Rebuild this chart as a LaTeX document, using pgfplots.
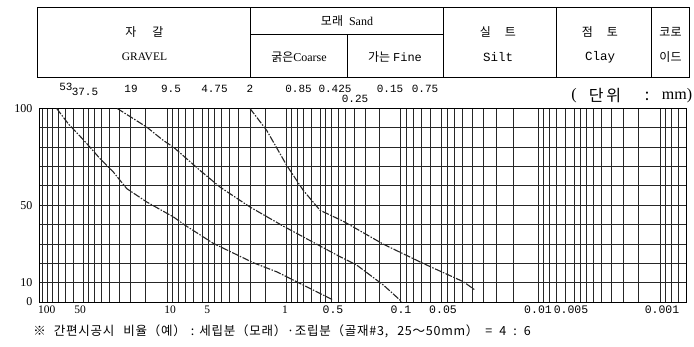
\documentclass[border=0pt]{standalone}
\usepackage{fontspec}
\setmainfont{Liberation Serif}
\newfontfamily\kr{Noto Sans CJK KR}
\newfontfamily\krwide[LetterSpace=6]{Noto Sans CJK KR}
\newfontfamily\mono{Liberation Mono}
\usepackage{pgfplots}
\pgfplotsset{compat=1.18}
\begin{document}
\begin{tikzpicture}
\useasboundingbox (0pt,0pt) rectangle (694pt,-346pt);
\begin{scope}[x=1pt,y=-1pt,line width=0.9pt]
% header table
\draw (37.7,7.3) rectangle (689.3,77.3);
\draw (250.7,7.3) -- (250.7,77.3);
\draw (443.3,7.3) -- (443.3,77.3);
\draw (556.7,7.3) -- (556.7,77.3);
\draw (651.7,7.3) -- (651.7,77.3);
\draw (250.7,34.3) -- (443.3,34.3);
\draw (347.3,34.3) -- (347.3,77.3);
\node[font=\kr\fontsize{12}{12}\selectfont] at (144.5,32) {자\hspace{16pt}갈};
\node[font=\fontsize{11.5}{12}\selectfont] at (144.5,57) {GRAVEL};
\node[font=\fontsize{12}{12}\selectfont] at (347,21) {{\kr 모래}\hspace{6pt}Sand};
\node[font=\fontsize{12}{12}\selectfont] at (299,57) {{\kr 굵은}Coarse};
\node[font=\fontsize{12}{12}\selectfont] at (395,57) {{\kr 가는} {\mono Fine}};
\node[font=\kr\fontsize{12}{12}\selectfont] at (498,32) {실\hspace{14pt}트};
\node[font=\mono\fontsize{12.5}{12}\selectfont] at (498,57) {Silt};
\node[font=\kr\fontsize{12}{12}\selectfont] at (600,32) {점\hspace{14pt}토};
\node[font=\mono\fontsize{12.5}{12}\selectfont] at (600,57) {Clay};
\node[font=\kr\fontsize{12}{12}\selectfont] at (670.5,32) {코로};
\node[font=\kr\fontsize{12}{12}\selectfont] at (670.5,57) {이드};
% sieve sizes row
\begin{scope}[every node/.style={font=\mono\fontsize{11}{11}\selectfont, inner sep=0pt}]
\node at (66,87) {53};
\node at (85,92) {37.5};
\node at (131,89) {19};
\node at (171,89) {9.5};
\node at (214.5,89) {4.75};
\node at (250,89) {2};
\node at (298.5,89) {0.85};
\node at (335,89) {0.425};
\node at (355,99) {0.25};
\node at (390,89) {0.15};
\node at (425,89) {0.75};
\end{scope}
\begin{scope}[every node/.style={inner sep=0pt}]
\node[font=\fontsize{16}{16}\selectfont] at (574,96) {(};
\node[font=\kr\fontsize{16}{16}\selectfont] at (605,96) {단\hspace{3pt}위};
\node[font=\kr\fontsize{16}{16}\selectfont] at (647,96) {:};
\node[font=\fontsize{16}{16}\selectfont] at (677,96) {mm)};
\end{scope}
% footnote
\node[font=\krwide\fontsize{12.5}{12.5}\selectfont, anchor=west, inner sep=0pt] at (33,331) {※\hspace{8pt}간편시공시\hspace{9pt}비율（예）\hspace{5pt}:\hspace{5pt}세립분（모래）·조립분（골재\#3,\hspace{9pt}25～50mm）\hspace{7pt}=\hspace{7pt}4\hspace{7pt}:\hspace{7pt}6};
\end{scope}
\begin{axis}[
  at={(39.5pt,-302pt)}, anchor=south west,
  scale only axis, width=646.5pt, height=193.5pt,
  xmin=39.5, xmax=686, ymin=0, ymax=100,
  axis line style={line width=1pt, black},
  xtick={42,47,52.5,58.6,65.6,73.6,83.1,88.6,94.7,101.7,109.7,119.3,130.9,145.9,167,
         172.4,178.5,185.4,193.4,202.8,208.3,214.4,221.3,229.2,238.6,250.2,265.0,286,
         291.2,297.0,303.7,311.3,320.3,325.5,331.4,338.0,345.6,354.6,365.7,379.9,400,
         406.3,413.4,421.4,430.6,441.5,447.9,454.9,462.9,472.2,483.1,496.5,513.7,538,
         543.6,549.8,556.9,565.1,574.7,580.3,586.5,593.6,601.8,611.5,623.3,638.5,660,665.6,671.8,678.9},
  xticklabels={},
  xmajorgrids, ymajorgrids,
  grid style={line width=0.9pt, black!85},
  major tick length=0pt,
  ytick={0,10,20,30,40,50,60,70,80,90,100},
  yticklabels={0,10,,,,50,,,,,100},
  yticklabel style={font=\fontsize{12}{12}\selectfont, anchor=east, inner sep=0pt, xshift=-7pt},
  xticklabel style={font=\fontsize{11.5}{11.5}\selectfont, anchor=north, inner sep=0pt, yshift=-4pt},
  extra x ticks={46.7,80,170,207.3,285,333,401,443,538,571,662},
  extra x tick labels={100,50,10,5,1,{\mono 0.5},{\mono 0.1},{\mono 0.05},{\mono 0.01},{\mono 0.005},{\mono 0.001}},
  extra x tick style={grid=none, major tick length=0pt},
  clip=false,
  curve/.style={black!85, line width=1.1pt, dash pattern=on 7pt off 1.5pt on 1.5pt off 1.5pt},
]
\addplot[curve] coordinates {(56.7,100) (68.3,92.1) (84,83.5) (100,74.1) (113.3,67.2) (126.7,58.6) (146.7,51.7) (173.3,44.0) (185,39.7) (213.3,30.3) (253.3,20.3) (276.7,15.6) (300,9.6) (333.3,1.0)};
\addplot[curve] coordinates {(117.3,100) (146.7,90.4) (163.3,83.5) (173.3,80.1) (200,68.0) (220,59.4) (250,49.1) (283.3,39.2) (340,23.4) (356.7,19.1) (383.3,8.8) (401.7,0.2)};
\addplot[curve] coordinates {(250,100) (266.7,88.7) (286.7,70.6) (303.3,57.7) (320,47.4) (343,41.8) (383.3,29.9) (423.3,19.9) (463.3,10.5) (475,6.2)};
\end{axis}
\end{tikzpicture}
\end{document}
